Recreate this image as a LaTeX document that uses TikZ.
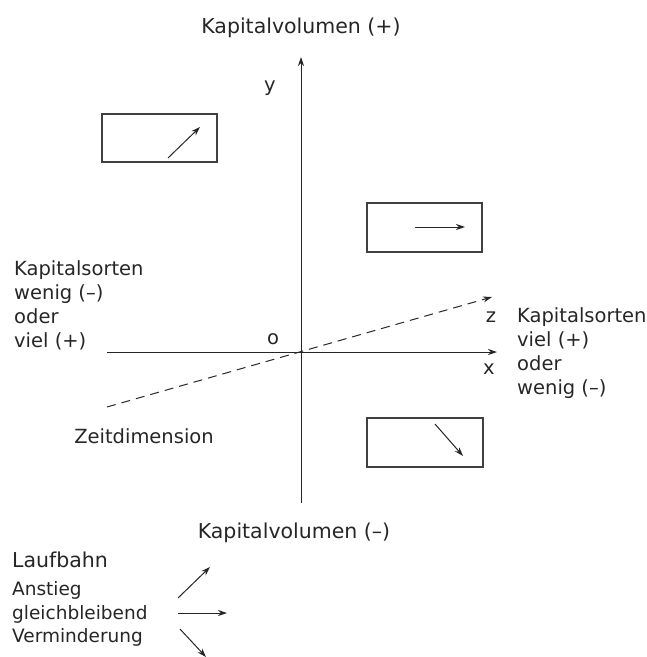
\documentclass[tikz,border=0pt]{standalone}
\usepackage{fontspec}
\setmainfont{DejaVu Sans}
\usetikzlibrary{arrows.meta}
\tikzset{
  lbl/.style={font=\fontsize{19.5}{24.3}\selectfont, inner sep=0pt, text=black!85},
  titel/.style={font=\fontsize{20.5}{24}\selectfont, inner sep=0pt, text=black!85},
  small/.style={font=\fontsize{18.5}{23.5}\selectfont, inner sep=0pt, text=black!85},
  pfeil/.style={line width=1pt, black!85, -{Stealth[length=9pt,width=6pt]}},
  kasten/.style={draw=black!75, line width=1.4pt}
}
\begin{document}
\begin{tikzpicture}[x=1pt,y=-1pt]
\useasboundingbox (0,0) rectangle (647,657);
% Achsen
\coordinate (O) at (301,352);
\coordinate (ytop) at (301,57);
\coordinate (ybot) at (301,503);
\coordinate (xl) at (107,352);
\coordinate (xr) at (497,352);
\coordinate (zl) at (107,407);
\coordinate (zr) at (492,297);
\draw[pfeil] (ybot) -- (ytop);
\draw[pfeil] (xl) -- (xr);
\draw[pfeil, dashed, dash pattern=on 9pt off 6pt] (zl) -- (zr);
\node[lbl, anchor=base] (ylab) at (270,91) {y};
\node[lbl, anchor=base] (xlab) at (489,374) {x};
\node[lbl, anchor=base] (zlab) at (491,322) {z};
\node[lbl, anchor=base] (olab) at (273,344) {o};
% Beschriftungen
\node[titel, anchor=base] (kvplus) at (301,33) {Kapitalvolumen (+)};
\node[titel, anchor=base] (kvminus) at (294,538) {Kapitalvolumen (--)};
\node[lbl, align=left, anchor=north west] (links) at (14,260) {Kapitalsorten\\wenig (--)\\oder\\viel (+)};
\node[lbl, align=left, anchor=north west] (rechts) at (517,307) {Kapitalsorten\\viel (+)\\oder\\wenig (--)};
\node[lbl, anchor=base] (zeit) at (144,443) {Zeitdimension};
% Kaesten
\draw[kasten] (102,114) rectangle (217,162);
\draw[kasten] (367,203) rectangle (482,252);
\draw[kasten] (367,418) rectangle (483,467);
\coordinate (a1) at (168,158); \coordinate (b1) at (200,127);
\coordinate (a2) at (415,227); \coordinate (b2) at (465,227);
\coordinate (a3) at (435,424); \coordinate (b3) at (463,456);
\draw[pfeil] (a1) -- (b1);
\draw[pfeil] (a2) -- (b2);
\draw[pfeil] (a3) -- (b3);
% Legende
\node[titel, anchor=base west] (lauf) at (12,567) {Laufbahn};
\node[small, align=left, anchor=north west] (legende) at (12,581.5) {Anstieg\\gleichbleibend\\Verminderung};
\coordinate (a4) at (178,598); \coordinate (b4) at (210,567);
\coordinate (a5) at (178,613); \coordinate (b5) at (227,613);
\coordinate (a6) at (180,629); \coordinate (b6) at (206,657);
\draw[pfeil] (a4) -- (b4);
\draw[pfeil] (a5) -- (b5);
\draw[pfeil] (a6) -- (b6);
\end{tikzpicture}
\end{document}
